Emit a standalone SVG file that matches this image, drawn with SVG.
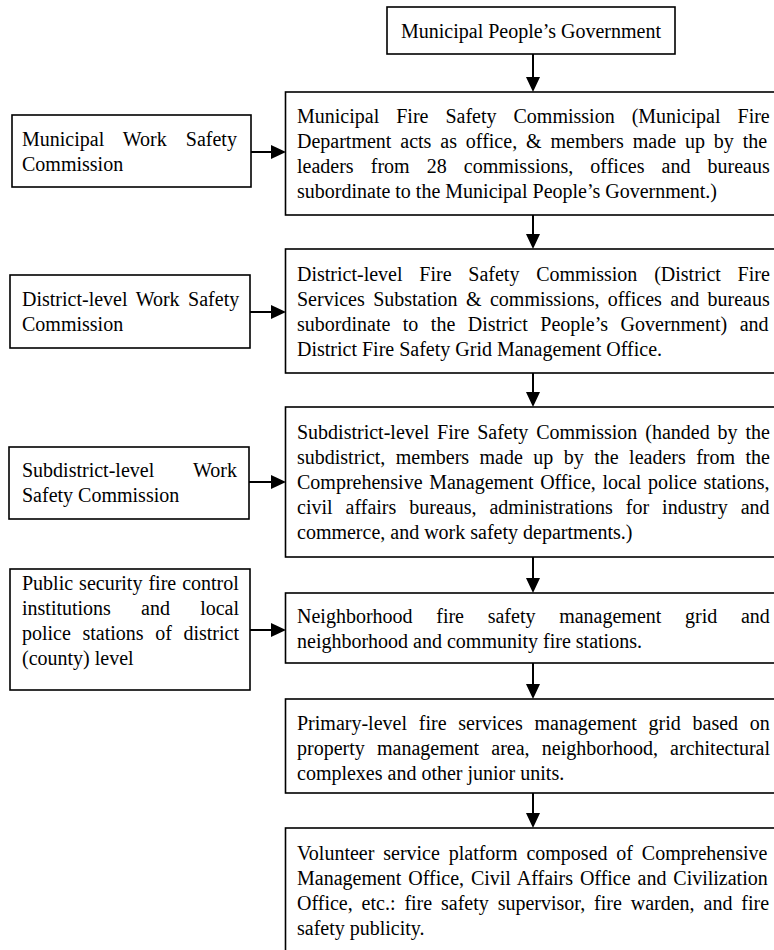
<svg xmlns="http://www.w3.org/2000/svg" width="774" height="950" viewBox="0 0 774 950">
<style>
.box{fill:#fff;stroke:#000;stroke-width:1.6}
text{font-family:"Liberation Serif","Times New Roman",serif;font-size:20px;fill:#000}
.c{text-anchor:middle}
.con line{stroke:#000;stroke-width:2}
</style>
<defs>
<marker id="ah" markerUnits="userSpaceOnUse" markerWidth="15" markerHeight="14" refX="13" refY="7" orient="auto" viewBox="0 0 15 14">
<path d="M0,0 L15,7 L0,14 z" fill="#000"/>
</marker>
</defs>
<rect width="774" height="950" fill="#fff"/>
<g id="top">
<rect class="box" x="387" y="7" width="288" height="47"/>
<text class="c" x="531" y="38">Municipal People’s Government</text>
</g>
<g id="main1">
<rect class="box" x="285.5" y="92" width="500" height="123"/>
<text x="297" y="123" word-spacing="12">Municipal Fire Safety Commission (Municipal Fire</text>
<text x="297" y="148" word-spacing="3.9">Department acts as office, &amp; members made up by the</text>
<text x="297" y="173" word-spacing="12.1">leaders from 28 commissions, offices and bureaus</text>
<text x="297" y="198">subordinate to the Municipal People’s Government.)</text>
</g>
<g id="main2">
<rect class="box" x="285.5" y="249" width="500" height="124"/>
<text x="297" y="280.5" word-spacing="11.8">District-level Fire Safety Commission (District Fire</text>
<text x="297" y="305.5" word-spacing="3.4">Services Substation &amp; commissions, offices and bureaus</text>
<text x="297" y="330.5" word-spacing="7.5">subordinate to the District People’s Government) and</text>
<text x="297" y="355.5">District Fire Safety Grid Management Office.</text>
</g>
<g id="main3">
<rect class="box" x="285.5" y="407" width="500" height="150"/>
<text x="297" y="439" word-spacing="2.9">Subdistrict-level Fire Safety Commission (handed by the</text>
<text x="297" y="464" word-spacing="5.45">subdistrict, members made up by the leaders from the</text>
<text x="297" y="489" word-spacing="1.6">Comprehensive Management Office, local police stations,</text>
<text x="297" y="514" word-spacing="8">civil affairs bureaus, administrations for industry and</text>
<text x="297" y="539">commerce, and work safety departments.)</text>
</g>
<g id="main4">
<rect class="box" x="285.5" y="593" width="500" height="70"/>
<text x="297" y="623" word-spacing="18.7">Neighborhood fire safety management grid and</text>
<text x="297" y="648">neighborhood and community fire stations.</text>
</g>
<g id="main5">
<rect class="box" x="285.5" y="699" width="500" height="94"/>
<text x="297" y="730" word-spacing="6.8">Primary-level fire services management grid based on</text>
<text x="297" y="755" word-spacing="7.2">property management area, neighborhood, architectural</text>
<text x="297" y="780">complexes and other junior units.</text>
</g>
<g id="main6">
<rect class="box" x="285.5" y="828" width="500" height="140"/>
<text x="297" y="860" word-spacing="3.84">Volunteer service platform composed of Comprehensive</text>
<text x="297" y="885" word-spacing="1.9">Management Office, Civil Affairs Office and Civilization</text>
<text x="297" y="910" word-spacing="3.9">Office, etc.: fire safety supervisor, fire warden, and fire</text>
<text x="297" y="935">safety publicity.</text>
</g>
<g id="left1">
<rect class="box" x="12" y="115" width="239" height="72"/>
<text x="22" y="146" word-spacing="14">Municipal Work Safety</text>
<text x="22" y="171">Commission</text>
</g>
<g id="left2">
<rect class="box" x="10" y="275" width="240" height="73"/>
<text x="22" y="306" word-spacing="3.5">District-level Work Safety</text>
<text x="22" y="331">Commission</text>
</g>
<g id="left3">
<rect class="box" x="9" y="447" width="240" height="72"/>
<text x="22" y="477" word-spacing="34.2">Subdistrict-level Work</text>
<text x="22" y="502">Safety Commission</text>
</g>
<g id="left4">
<rect class="box" x="10" y="569" width="240" height="121"/>
<text x="22" y="590" word-spacing="1">Public security fire control</text>
<text x="22" y="615" word-spacing="25.2">institutions and local</text>
<text x="22" y="640" word-spacing="6.6">police stations of district</text>
<text x="22" y="665">(county) level</text>
</g>
<g id="connectors" class="con">
<line x1="533" y1="54" x2="533" y2="90" marker-end="url(#ah)"/>
<line x1="533" y1="215" x2="533" y2="247" marker-end="url(#ah)"/>
<line x1="533" y1="373" x2="533" y2="405" marker-end="url(#ah)"/>
<line x1="533" y1="557" x2="533" y2="591" marker-end="url(#ah)"/>
<line x1="533" y1="663" x2="533" y2="697" marker-end="url(#ah)"/>
<line x1="533" y1="793" x2="533" y2="826" marker-end="url(#ah)"/>
<line x1="251" y1="152" x2="284" y2="152" marker-end="url(#ah)"/>
<line x1="250" y1="312" x2="284" y2="312" marker-end="url(#ah)"/>
<line x1="249" y1="482" x2="284" y2="482" marker-end="url(#ah)"/>
<line x1="250" y1="630" x2="284" y2="630" marker-end="url(#ah)"/>
</g>
</svg>
